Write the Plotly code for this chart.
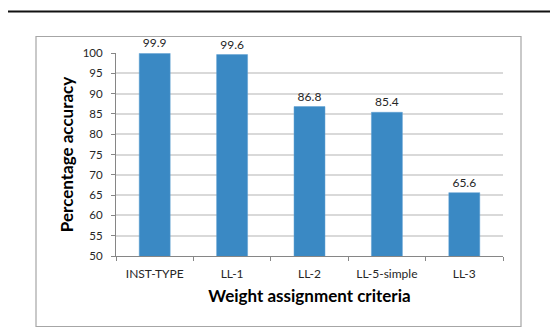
import plotly.graph_objects as go

categories = ["INST-TYPE", "LL-1", "LL-2", "LL-5-simple", "LL-3"]
accuracy = [99.9, 99.6, 86.8, 85.4, 65.6]
y_ticks = list(range(50, 101, 5))

FONT = "Lato, Carlito, Calibri, sans-serif"
TXT = "#262626"

fig = go.Figure(go.Bar(
    x=categories, y=accuracy,
    marker=dict(color="#3A89C4", line=dict(color="#5C9FD2", width=0.5)),
    width=0.4,
    text=[f"{v:.1f}" for v in accuracy],
    textposition="outside", cliponaxis=False,
    textfont=dict(family=FONT, size=12, color=TXT),
))

# page body adds an 8px offset, so the figure is drawn 8px smaller
OFF = 8
W, H = 558 - OFF, 328 - OFF
L, R, T, B = 116 - OFF, 55, 53 - OFF, 72
pw, ph = W - L - R, H - T - B

def px(x):
    return (x - OFF - L) / pw

def py(y):
    return (H - B - (y - OFF)) / ph

fig.update_layout(
    width=W, height=H,
    margin=dict(l=L, r=R, t=T, b=B),
    paper_bgcolor="white", plot_bgcolor="white",
    showlegend=False,
    font=dict(family=FONT, color=TXT),
    xaxis=dict(
        type="category", tickson="boundaries",
        ticks="outside", ticklen=4, tickcolor="#868686",
        showline=True, linecolor="#868686", linewidth=1,
        showgrid=False,
        tickfont=dict(size=12, color=TXT),
        ticklabelstandoff=7,
        title=dict(text="<b>Weight assignment criteria</b>",
                   font=dict(size=17, color="black"), standoff=9),
    ),
    yaxis=dict(
        range=[50, 100], tickvals=y_ticks,
        ticks="outside", ticklen=4, tickcolor="#868686",
        showline=True, linecolor="#868686", linewidth=1,
        showgrid=True, gridcolor="#D9D9D9", gridwidth=1.5,
        tickfont=dict(size=11.5, color=TXT),
        ticklabelstandoff=6,
        title=dict(text="<b>Percentage accuracy</b>",
                   font=dict(size=17, color="black"), standoff=4),
        zeroline=False,
    ),
    shapes=[
        dict(type="rect", xref="paper", yref="paper",
             x0=px(36), x1=px(521), y0=py(326.5), y1=py(36.5),
             line=dict(color="#A6A6A6", width=1.2), layer="below"),
        dict(type="line", xref="paper", yref="paper",
             x0=px(0), x1=px(570), y0=py(11.5), y1=py(11.5),
             line=dict(color="#111111", width=2.2)),
    ],
)

fig.write_html("out.html")
